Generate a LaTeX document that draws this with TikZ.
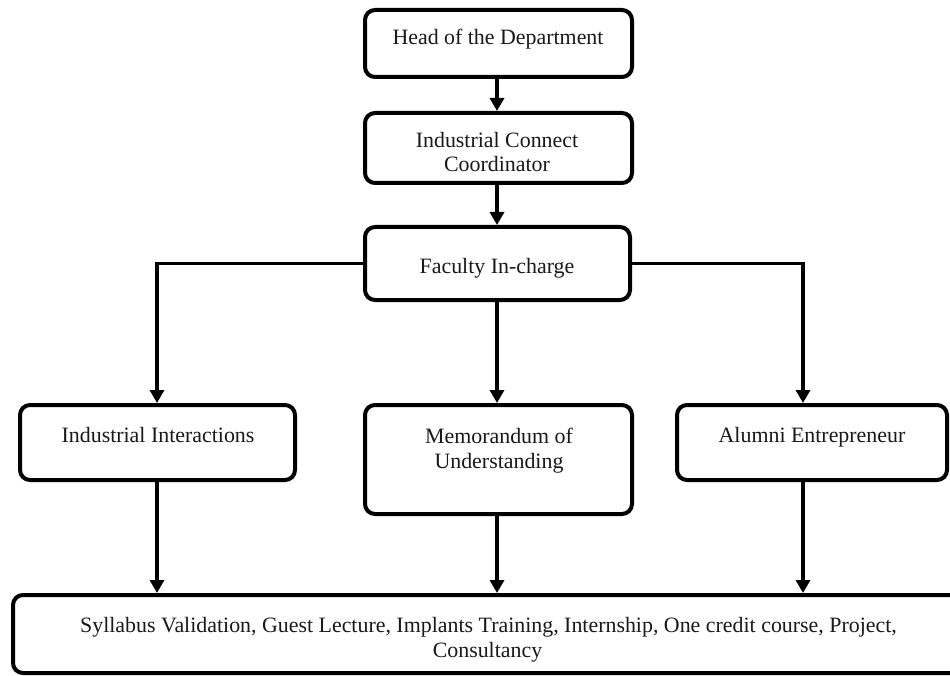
\documentclass[tikz,border=0pt]{standalone}
\usepackage{fontspec}
\setmainfont{Liberation Serif}
\usetikzlibrary{arrows.meta,calc}
\begin{document}
\begin{tikzpicture}[x=1pt,y=-1pt,
  box/.style={draw=black,line width=4pt,rounded corners=10pt,fill=white,inner sep=0pt},
  txt/.style={anchor=base,inner sep=0pt,font=\fontsize{21.9}{25}\selectfont,text=black!90},
  arr/.style={line width=3.8pt,-{Triangle[width=14pt,length=13pt]}},
  link/.style={line width=3.8pt}]
\useasboundingbox (0,0) rectangle (950,676);
\fill[white] (0,0) rectangle (950,676);

% boxes
\node[box,minimum width=267pt,minimum height=67pt] (hod) at (498.5,43.5) {};
\node[box,minimum width=267pt,minimum height=70pt] (icc) at (498.5,148) {};
\node[box,minimum width=265pt,minimum height=73pt] (fic) at (497.5,263.5) {};
\node[box,minimum width=275pt,minimum height=75pt] (ii) at (157.5,442.5) {};
\node[box,minimum width=267pt,minimum height=109pt] (mou) at (498.5,459.5) {};
\node[box,minimum width=270pt,minimum height=75pt] (ae) at (812,442.5) {};
\node[box,minimum width=950pt,minimum height=78pt] (out) at (488,634) {};

% labels
\node[txt] (thod) at (498,45) {Head of the Department};
\node[txt] (ticc1) at (497,148) {Industrial Connect};
\node[txt] (ticc2) at (497,172) {Coordinator};
\node[txt] (tfic) at (497,273) {Faculty In-charge};
\node[txt] (tii) at (158,442) {Industrial Interactions};
\node[txt] (tmou1) at (499,443) {Memorandum of};
\node[txt] (tmou2) at (499,468) {Understanding};
\node[txt] (tae) at (812,442) {Alumni Entrepreneur};
\node[txt] (tout1) at (488.5,632) {Syllabus Validation, Guest Lecture, Implants Training, Internship, One credit course, Project,};
\node[txt] (tout2) at (487.5,657) {Consultancy};

% connector anchors
\coordinate (iiCol) at (157,0);
\coordinate (mouCol) at (497,0);
\coordinate (aeCol) at (803,0);

% connectors
\draw[arr] (hod.south -| mouCol) -- (icc.north -| mouCol);
\draw[arr] (icc.south -| mouCol) -- (fic.north -| mouCol);
\draw[arr] (fic.south -| mouCol) -- (mou.north -| mouCol);
\draw[arr] (fic.west) -| (ii.north -| iiCol);
\draw[arr] (fic.east) -| (ae.north -| aeCol);
\draw[arr] (ii.south -| iiCol) -- (out.north -| iiCol);
\draw[arr] (mou.south -| mouCol) -- (out.north -| mouCol);
\draw[arr] (ae.south -| aeCol) -- (out.north -| aeCol);
\end{tikzpicture}
\end{document}
